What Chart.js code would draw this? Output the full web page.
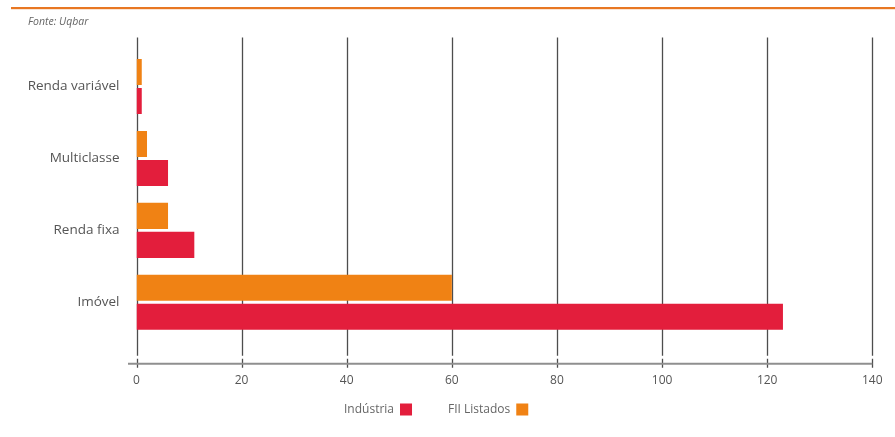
<!DOCTYPE html>
<html lang="pt-BR">
<head>
<meta charset="utf-8">
<title>Fundos por tipo</title>
<script src="https://cdn.jsdelivr.net/npm/chart.js@4.4.1/dist/chart.umd.min.js"></script>
<style>
  html, body { margin: 0; padding: 0; background: #ffffff; }
  #wrap { position: relative; width: 895px; height: 437px; }
</style>
</head>
<body>
<div id="wrap"><canvas id="chart" width="895" height="437"></canvas></div>
<script>
// Categories (top to bottom)
const categories = ['Renda variável', 'Multiclasse', 'Renda fixa', 'Imóvel'];
// Number of funds per type
const fiiListados = [1, 2, 6, 60];
const industria = [1, 6, 11, 123];
// Value axis ticks
const xTicks = [0, 20, 40, 60, 80, 100, 120, 140];
const sourceNote = 'Fonte: Uqbar';

const RED = '#E31E3C';
const ORANGE = '#F08214';
const FONT = "'Open Sans', 'Noto Sans', sans-serif";

// Vertical grid lines, bottom axis line, source note and top rule
const frame = {
  id: 'frame',
  beforeDatasetsDraw(chart) {
    const ctx = chart.ctx;
    const x = chart.scales.x;
    const top = chart.chartArea.top - 13;
    const axisY = chart.chartArea.bottom + 25.5;
    ctx.save();
    ctx.strokeStyle = '#4d4d4d';
    ctx.lineWidth = 1.3;
    xTicks.forEach(v => {
      const px = Math.round(x.getPixelForValue(v)) + 0.5;
      ctx.beginPath();
      ctx.moveTo(px, top);
      ctx.lineTo(px, axisY - 8);
      ctx.moveTo(px, axisY - 5);
      ctx.lineTo(px, axisY + 4);
      ctx.stroke();
    });
    ctx.strokeStyle = '#8f8f8f';
    ctx.lineWidth = 2;
    ctx.beginPath();
    ctx.moveTo(x.getPixelForValue(0) - 8.5, axisY);
    ctx.lineTo(x.getPixelForValue(140), axisY);
    ctx.stroke();
    ctx.restore();
  },
  afterDraw(chart) {
    const ctx = chart.ctx;
    ctx.save();
    // top rule
    ctx.fillStyle = '#E87722';
    ctx.fillRect(11, 7, chart.width - 11, 2.2);
    // source
    ctx.fillStyle = '#666666';
    ctx.font = "italic 10.5px " + FONT;
    ctx.textBaseline = 'middle';
    ctx.textAlign = 'left';
    ctx.fillText(sourceNote, 28, 22);
    ctx.restore();
  }
};

// Legend: label followed by a colour square, in the order Indústria, FII Listados
const sideLegend = {
  id: 'sideLegend',
  afterDraw(chart) {
    const ctx = chart.ctx;
    const order = [1, 0];
    let cx = 344;
    const cy = 409.5;
    ctx.save();
    ctx.font = "12px " + FONT;
    ctx.textBaseline = 'middle';
    ctx.textAlign = 'left';
    order.forEach(i => {
      const ds = chart.data.datasets[i];
      ctx.fillStyle = '#666666';
      ctx.fillText(ds.label, cx, cy);
      cx += ctx.measureText(ds.label).width + 6;
      ctx.fillStyle = ds.backgroundColor;
      ctx.fillRect(cx, cy - 6, 12, 12);
      cx += 12 + 36;
    });
    ctx.restore();
  }
};

new Chart(document.getElementById('chart'), {
  type: 'bar',
  data: {
    labels: categories,
    datasets: [
      { label: 'FII Listados', data: fiiListados, backgroundColor: ORANGE },
      { label: 'Indústria', data: industria, backgroundColor: RED }
    ]
  },
  options: {
    indexAxis: 'y',
    responsive: false,
    animation: false,
    events: [],
    categoryPercentage: 0.806,
    barPercentage: 0.897,
    layout: { padding: { top: 50.5, bottom: 38.7, left: 0, right: 22.7 } },
    scales: {
      x: {
        min: 0,
        max: 140,
        afterBuildTicks(scale) { scale.ticks = xTicks.map(v => ({ value: v })); },
        afterFit(scale) {
          scale.height = 60;
          scale.paddingLeft = 0;
          scale.paddingRight = 0;
        },
        grid: { display: false, drawTicks: false },
        border: { display: false },
        ticks: { color: '#555555', font: { family: FONT, size: 12 }, padding: 35 }
      },
      y: {
        afterFit(scale) {
          scale.width = 136.5;
          scale.paddingTop = 0;
          scale.paddingBottom = 0;
        },
        grid: { display: false, drawTicks: false },
        border: { display: false },
        ticks: { color: '#555555', font: { family: FONT, size: 13.5 }, padding: 17 }
      }
    },
    plugins: {
      legend: { display: false },
      tooltip: { enabled: false }
    }
  },
  plugins: [frame, sideLegend]
});
</script>
</body>
</html>
